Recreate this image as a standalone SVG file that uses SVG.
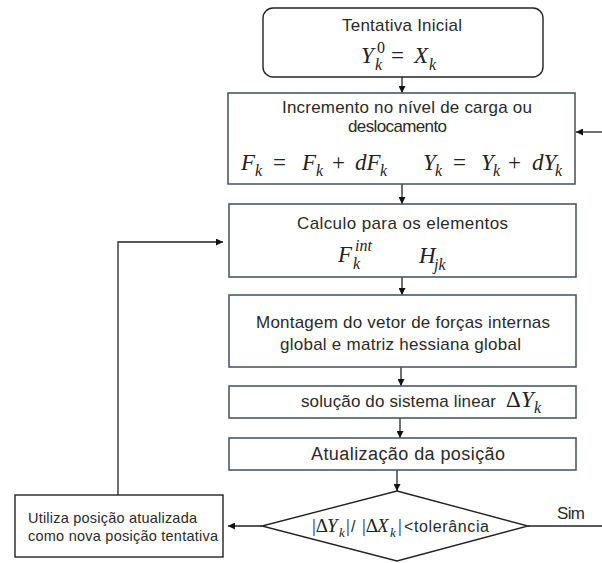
<svg xmlns="http://www.w3.org/2000/svg" width="602" height="563" viewBox="0 0 602 563">
<defs>
<marker id="ah" viewBox="0 0 10 10" refX="10" refY="5" markerWidth="7" markerHeight="7" orient="auto" markerUnits="userSpaceOnUse">
<path d="M0,0 L10,5 L0,10 z" fill="#111"/>
</marker>
<style>
.box{fill:#fff;stroke:#4a5a68;stroke-width:1.6}
.blk{fill:#fff;stroke:#222;stroke-width:1.4}
.t{font-family:"Liberation Sans",Arial,sans-serif;font-size:17px;fill:#2a2a2a}
.ts{font-family:"Liberation Sans",Arial,sans-serif;font-size:14.5px;fill:#2a2a2a}
.m{font-family:"Liberation Serif","Times New Roman",serif;font-style:italic;font-size:23px;fill:#222}
.s{font-size:16px}
.u{font-style:normal}
.c{fill:none;stroke:#222;stroke-width:1.3}
</style>
</defs>
<rect width="602" height="563" fill="#fff"/>
<g id="connectors">
<line class="c" x1="402" y1="77" x2="402" y2="93" marker-end="url(#ah)"/>
<line class="c" x1="602" y1="132" x2="576" y2="132" marker-end="url(#ah)"/>
<line class="c" x1="402" y1="184" x2="402" y2="204" marker-end="url(#ah)"/>
<line class="c" x1="402" y1="277" x2="402" y2="295" marker-end="url(#ah)"/>
<line class="c" x1="401" y1="367" x2="401" y2="386" marker-end="url(#ah)"/>
<line class="c" x1="400" y1="418" x2="400" y2="438" marker-end="url(#ah)"/>
<line class="c" x1="397" y1="470" x2="397" y2="491" marker-end="url(#ah)"/>
<line class="c" x1="262" y1="526" x2="228" y2="526" marker-end="url(#ah)"/>
<line class="c" x1="528" y1="526" x2="602" y2="526"/>
<text class="t" x="557" y="519" textLength="28">Sim</text>
<polyline class="c" points="118,495 118,242 223,242" marker-end="url(#ah)"/>
</g>
<g id="n_inicial">
<rect class="blk" x="263" y="8" width="280" height="69" rx="10"/>
<text class="t" x="342" y="31" textLength="120">Tentativa Inicial</text>
<text class="m"><tspan x="361" y="63">Y</tspan><tspan class="s" x="375" y="70">k</tspan><tspan class="s u" x="377" y="53">0</tspan><tspan class="u" x="391" y="63">=</tspan><tspan x="414" y="63">X</tspan><tspan class="s" x="429" y="70">k</tspan></text>
</g>
<g id="n_incremento">
<rect class="box" x="228" y="93" width="347" height="91"/>
<text class="t" x="282" y="113" textLength="250">Incremento no nível de carga ou</text>
<text class="t" x="348" y="132" textLength="99">deslocamento</text>
<text class="m"><tspan x="241" y="170">F</tspan><tspan class="s" x="255" y="176">k</tspan><tspan class="u" x="273" y="170">=</tspan><tspan x="302" y="170">F</tspan><tspan class="s" x="316" y="176">k</tspan><tspan class="u" x="332" y="170">+</tspan><tspan x="355" y="170">dF</tspan><tspan class="s" x="380" y="176">k</tspan></text>
<text class="m"><tspan x="423" y="170">Y</tspan><tspan class="s" x="435" y="176">k</tspan><tspan class="u" x="453" y="170">=</tspan><tspan x="481" y="170">Y</tspan><tspan class="s" x="493" y="176">k</tspan><tspan class="u" x="508" y="170">+</tspan><tspan x="532" y="170">dY</tspan><tspan class="s" x="555" y="176">k</tspan></text>
</g>
<g id="n_calculo">
<rect class="box" x="229" y="204" width="347" height="73"/>
<text class="t" x="297" y="229" textLength="211">Calculo para os elementos</text>
<text class="m"><tspan x="338" y="262">F</tspan><tspan class="s" x="353" y="269">k</tspan><tspan class="s" x="355" y="251">int</tspan></text>
<text class="m"><tspan x="419" y="263">H</tspan><tspan class="s" x="434" y="270">jk</tspan></text>
</g>
<g id="n_montagem">
<rect class="box" x="229" y="295" width="347" height="72"/>
<text class="t" x="256" y="328" textLength="294">Montagem do vetor de forças internas</text>
<text class="t" x="280" y="350" textLength="241">global e matriz hessiana global</text>
</g>
<g id="n_solucao">
<rect class="box" x="229" y="386" width="347" height="32"/>
<text class="t" x="301" y="407" textLength="195">solução do sistema linear</text>
<text class="m"><tspan class="u" x="506" y="407">Δ</tspan><tspan x="521" y="407">Y</tspan><tspan class="s" x="534" y="413">k</tspan></text>
</g>
<g id="n_atualizacao">
<rect class="box" x="229" y="438" width="347" height="32"/>
<text class="t" x="311" y="460" textLength="194" style="font-size:18px">Atualização da posição</text>
</g>
<g id="n_tolerancia">
<polygon class="blk" points="397,491 528,526 397,561 262,526"/>
<text class="m" style="font-size:19px"><tspan class="u" x="312" y="532">|Δ</tspan><tspan x="327" y="532">Y</tspan><tspan x="339" y="537" style="font-size:13px">k</tspan><tspan class="u" x="346" y="532">|</tspan></text>
<text class="t" x="351" y="532" style="font-size:16px">/</text>
<text class="m" style="font-size:19px"><tspan class="u" x="362" y="532">|Δ</tspan><tspan x="377" y="532">X</tspan><tspan x="390" y="537" style="font-size:13px">k</tspan><tspan class="u" x="398" y="532">|</tspan></text>
<text class="t" x="404" y="532" textLength="85" style="font-size:16px">&lt;tolerância</text>
</g>
<g id="n_utiliza">
<rect class="blk" x="15" y="495" width="208" height="62"/>
<text class="ts" x="28" y="523" textLength="169">Utiliza posição atualizada</text>
<text class="ts" x="28" y="541" textLength="190">como nova posição tentativa</text>
</g>
</svg>
